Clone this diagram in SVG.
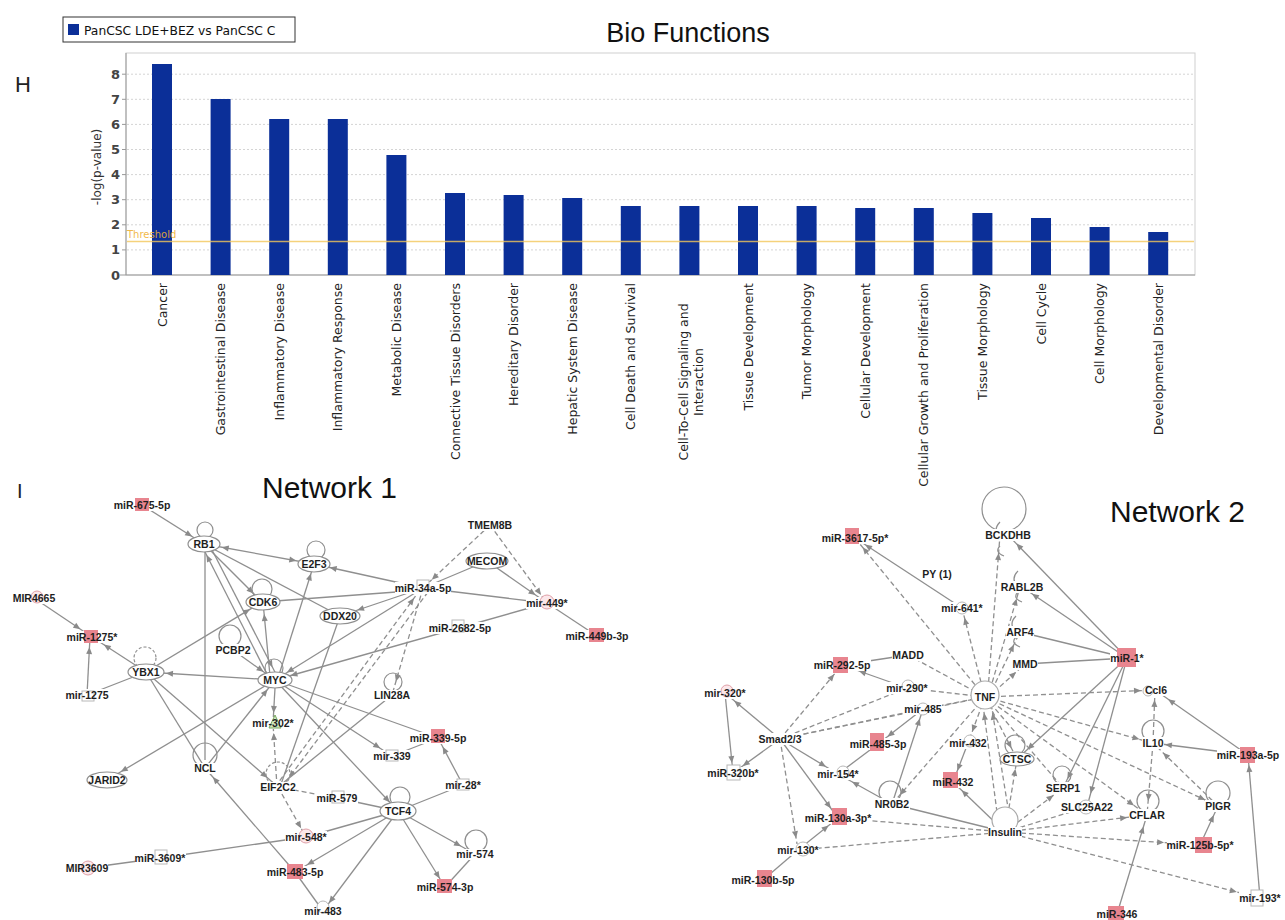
<svg xmlns="http://www.w3.org/2000/svg" width="1285" height="920" viewBox="0 0 1285 920">
<style>
.xl{font-family:"DejaVu Sans","Liberation Sans",sans-serif;font-size:12.5px;fill:#222;text-anchor:end}
.xm{font-family:"DejaVu Sans","Liberation Sans",sans-serif;font-size:12.5px;fill:#222;text-anchor:middle}
.yl{font-family:"DejaVu Sans","Liberation Sans",sans-serif;font-size:13px;font-weight:bold;fill:#444;text-anchor:end}
.bar{fill:#0b2f98}
.grid{stroke:#d4d4d4;stroke-dasharray:2 2;stroke-width:1}
.e{stroke:#8f8f8f;stroke-width:1.3;fill:none}
.d{stroke-dasharray:5 3}
.t{font-family:"Liberation Sans",Arial,sans-serif;font-weight:bold;font-size:10.5px;fill:#1e1e1e;text-anchor:middle}
.bg{fill:#fff}
.g{fill:#fff;stroke:#8f8f8f;stroke-width:1.2}
.lp{fill:none;stroke:#8f8f8f;stroke-width:1.2}
.lpd{fill:none;stroke:#8f8f8f;stroke-width:1.2;stroke-dasharray:3 2}
.r{fill:#e8858f}
.pk{fill:#fbe7ea;stroke:#e0a0a8}
.gb{fill:#fff;stroke:#b8b8b8}
.gn{fill:#cfe8c0;stroke:#7aa860}
.ttl{font-family:"Liberation Sans",Arial,sans-serif;fill:#111}
.ah{fill:#8a8a8a}
</style>
<defs>
<marker id="a10" markerWidth="8" markerHeight="8" refX="17" refY="0" orient="auto" markerUnits="userSpaceOnUse" overflow="visible"><path class="ah" d="M0,-3 L7,0 L0,3z"/></marker>
<marker id="a12" markerWidth="8" markerHeight="8" refX="19" refY="0" orient="auto" markerUnits="userSpaceOnUse" overflow="visible"><path class="ah" d="M0,-3 L7,0 L0,3z"/></marker>
<marker id="a14" markerWidth="8" markerHeight="8" refX="21" refY="0" orient="auto" markerUnits="userSpaceOnUse" overflow="visible"><path class="ah" d="M0,-3 L7,0 L0,3z"/></marker>
<marker id="a16" markerWidth="8" markerHeight="8" refX="23" refY="0" orient="auto" markerUnits="userSpaceOnUse" overflow="visible"><path class="ah" d="M0,-3 L7,0 L0,3z"/></marker>
<marker id="a18" markerWidth="8" markerHeight="8" refX="25" refY="0" orient="auto" markerUnits="userSpaceOnUse" overflow="visible"><path class="ah" d="M0,-3 L7,0 L0,3z"/></marker>
<marker id="a20" markerWidth="8" markerHeight="8" refX="27" refY="0" orient="auto" markerUnits="userSpaceOnUse" overflow="visible"><path class="ah" d="M0,-3 L7,0 L0,3z"/></marker>
<marker id="a24" markerWidth="8" markerHeight="8" refX="31" refY="0" orient="auto" markerUnits="userSpaceOnUse" overflow="visible"><path class="ah" d="M0,-3 L7,0 L0,3z"/></marker>
<marker id="a36" markerWidth="8" markerHeight="8" refX="43" refY="0" orient="auto" markerUnits="userSpaceOnUse" overflow="visible"><path class="ah" d="M0,-3 L7,0 L0,3z"/></marker>
<marker id="s18" markerWidth="8" markerHeight="8" refX="25" refY="0" orient="auto-start-reverse" markerUnits="userSpaceOnUse" overflow="visible"><path class="ah" d="M0,-3 L7,0 L0,3z"/></marker>
</defs>
<rect width="1285" height="920" fill="#fff"/>

<!-- Chart -->
<g id="chart">
<rect x="63" y="17" width="232" height="25" fill="#fff" stroke="#333"/>
<rect x="68" y="24" width="11" height="11" class="bar"/>
<text x="84" y="34.5" style="font-family:'DejaVu Sans',sans-serif;font-size:12.3px;fill:#111">PanCSC LDE+BEZ vs PanCSC C</text>
<text x="688" y="42" class="ttl" style="font-size:27px;text-anchor:middle">Bio Functions</text>
<text x="15" y="92" class="ttl" style="font-size:22px;fill:#222">H</text>
<rect x="126" y="53" width="1069" height="222" fill="#fff" stroke="#cfcfcf"/>
<g class="grid">
<line x1="127" y1="249.9" x2="1194" y2="249.9"/><line x1="127" y1="224.8" x2="1194" y2="224.8"/>
<line x1="127" y1="199.7" x2="1194" y2="199.7"/><line x1="127" y1="174.6" x2="1194" y2="174.6"/>
<line x1="127" y1="149.5" x2="1194" y2="149.5"/><line x1="127" y1="124.4" x2="1194" y2="124.4"/>
<line x1="127" y1="99.3" x2="1194" y2="99.3"/><line x1="127" y1="74.2" x2="1194" y2="74.2"/>
</g>
<g stroke="#999"><line x1="126" y1="53" x2="126" y2="275"/><line x1="120" y1="275" x2="1195" y2="275"/>
<line x1="122" y1="249.9" x2="126" y2="249.9"/><line x1="122" y1="224.8" x2="126" y2="224.8"/><line x1="122" y1="199.7" x2="126" y2="199.7"/><line x1="122" y1="174.6" x2="126" y2="174.6"/><line x1="122" y1="149.5" x2="126" y2="149.5"/><line x1="122" y1="124.4" x2="126" y2="124.4"/><line x1="122" y1="99.3" x2="126" y2="99.3"/><line x1="122" y1="74.2" x2="126" y2="74.2"/></g>
<text class="yl" x="120" y="279.5">0</text><text class="yl" x="120" y="254.4">1</text><text class="yl" x="120" y="229.3">2</text><text class="yl" x="120" y="204.2">3</text><text class="yl" x="120" y="179.1">4</text><text class="yl" x="120" y="154">5</text><text class="yl" x="120" y="128.9">6</text><text class="yl" x="120" y="103.8">7</text><text class="yl" x="120" y="78.7">8</text>
<text transform="translate(101,167) rotate(-90)" style="font-family:'DejaVu Sans',sans-serif;font-size:12px;fill:#333;text-anchor:middle">-log(p-value)</text>
<rect class="bar" x="152" y="64" width="20" height="211"/>
<rect class="bar" x="210.6" y="99" width="20" height="176"/>
<rect class="bar" x="269.2" y="119" width="20" height="156"/>
<rect class="bar" x="327.8" y="119" width="20" height="156"/>
<rect class="bar" x="386.4" y="155" width="20" height="120"/>
<rect class="bar" x="445" y="193" width="20" height="82"/>
<rect class="bar" x="503.6" y="195" width="20" height="80"/>
<rect class="bar" x="562.2" y="198" width="20" height="77"/>
<rect class="bar" x="620.8" y="206" width="20" height="69"/>
<rect class="bar" x="679.4" y="206" width="20" height="69"/>
<rect class="bar" x="738" y="206" width="20" height="69"/>
<rect class="bar" x="796.6" y="206" width="20" height="69"/>
<rect class="bar" x="855.2" y="208" width="20" height="67"/>
<rect class="bar" x="913.8" y="208" width="20" height="67"/>
<rect class="bar" x="972.4" y="213" width="20" height="62"/>
<rect class="bar" x="1031" y="218" width="20" height="57"/>
<rect class="bar" x="1089.6" y="227" width="20" height="48"/>
<rect class="bar" x="1148.2" y="232" width="20" height="43"/>
<line x1="127" y1="241.5" x2="1194" y2="241.5" stroke="#f2c75a" stroke-width="1.3" stroke-opacity="0.8"/>
<text x="127" y="238" style="font-family:'DejaVu Sans',sans-serif;font-size:10px;fill:#f0b030;fill-opacity:0.9">Threshold</text>
<text class="xl" transform="translate(166.5,283) rotate(-90)">Cancer</text>
<text class="xl" transform="translate(225,283) rotate(-90)">Gastrointestinal Disease</text>
<text class="xl" transform="translate(283.7,283) rotate(-90)">Inflammatory Disease</text>
<text class="xl" transform="translate(342.3,283) rotate(-90)">Inflammatory Response</text>
<text class="xl" transform="translate(400.9,283) rotate(-90)">Metabolic Disease</text>
<text class="xl" transform="translate(459.5,283) rotate(-90)">Connective Tissue Disorders</text>
<text class="xl" transform="translate(518.1,283) rotate(-90)">Hereditary Disorder</text>
<text class="xl" transform="translate(576.7,283) rotate(-90)">Hepatic System Disease</text>
<text class="xl" transform="translate(635.3,283) rotate(-90)">Cell Death and Survival</text>
<text class="xm" transform="translate(688,382) rotate(-90)">Cell-To-Cell Signaling and</text>
<text class="xm" transform="translate(703,382) rotate(-90)">Interaction</text>
<text class="xl" transform="translate(752.5,283) rotate(-90)">Tissue Development</text>
<text class="xl" transform="translate(811.1,283) rotate(-90)">Tumor Morphology</text>
<text class="xl" transform="translate(869.7,283) rotate(-90)">Cellular Development</text>
<text class="xl" transform="translate(928.3,283) rotate(-90)">Cellular Growth and Proliferation</text>
<text class="xl" transform="translate(986.9,283) rotate(-90)">Tissue Morphology</text>
<text class="xl" transform="translate(1045.5,283) rotate(-90)">Cell Cycle</text>
<text class="xl" transform="translate(1104.1,283) rotate(-90)">Cell Morphology</text>
<text class="xl" transform="translate(1162.7,283) rotate(-90)">Developmental Disorder</text>
</g>

<text x="17" y="498" class="ttl" style="font-size:20px;fill:#222">I</text>
<text x="262" y="498" class="ttl" style="font-size:30px">Network 1</text>
<text x="1110" y="522" class="ttl" style="font-size:30px">Network 2</text>

<!-- Connectors -->
<g id="connectors" class="e">
<!-- Network 1 -->
<line x1="142" y1="505" x2="204" y2="544" marker-end="url(#a14)"/>
<line x1="204" y1="544" x2="314" y2="564" marker-start="url(#s18)" marker-end="url(#a18)"/>
<line x1="204" y1="544" x2="262" y2="602" marker-end="url(#a12)"/>
<line x1="204" y1="544" x2="340" y2="616"/>
<line x1="205" y1="552" x2="205" y2="760"/>
<line x1="270" y1="680" x2="202" y2="546" marker-end="url(#a10)"/>
<line x1="210" y1="546" x2="278" y2="678" marker-end="url(#a12)"/>
<line x1="278" y1="678" x2="314" y2="564" marker-end="url(#a10)"/>
<line x1="270" y1="676" x2="263" y2="602" marker-end="url(#a12)"/>
<line x1="275" y1="680" x2="146" y2="672" marker-end="url(#a20)"/>
<line x1="146" y1="672" x2="262" y2="602" marker-end="url(#a14)"/>
<line x1="233" y1="650" x2="275" y2="680" marker-end="url(#a14)"/>
<line x1="423" y1="588" x2="314" y2="564" marker-end="url(#a16)"/>
<line x1="423" y1="590" x2="262" y2="602"/>
<line x1="423" y1="588" x2="340" y2="616" marker-end="url(#a18)"/>
<line x1="423" y1="588" x2="275" y2="680" marker-end="url(#a14)"/>
<line x1="423" y1="588" x2="547" y2="603"/>
<line class="e d" x1="490" y1="525" x2="423" y2="588" marker-end="url(#a12)"/>
<line class="e d" x1="490" y1="525" x2="547" y2="603" marker-end="url(#a10)"/>
<line x1="487" y1="561" x2="423" y2="588"/>
<line x1="487" y1="561" x2="547" y2="603" marker-end="url(#a14)"/>
<line x1="547" y1="603" x2="597" y2="636"/>
<line x1="547" y1="603" x2="275" y2="680" marker-end="url(#a16)"/>
<line class="e d" x1="423" y1="588" x2="392" y2="695" marker-end="url(#a14)"/>
<line class="e d" x1="275" y1="787" x2="420" y2="590" marker-end="url(#a10)"/>
<line class="e d" x1="428" y1="592" x2="282" y2="787" marker-end="url(#a12)"/>
<line x1="34" y1="598" x2="92" y2="637" marker-end="url(#a14)"/>
<line x1="146" y1="672" x2="92" y2="637" marker-end="url(#a14)"/>
<line x1="87" y1="695" x2="90" y2="637" marker-end="url(#a10)"/>
<line x1="146" y1="672" x2="87" y2="695"/>
<line x1="275" y1="680" x2="107" y2="780" marker-end="url(#a16)"/>
<line x1="146" y1="672" x2="205" y2="768"/>
<line x1="146" y1="672" x2="278" y2="787" marker-end="url(#a14)"/>
<line x1="205" y1="768" x2="275" y2="680" marker-end="url(#a12)"/>
<line x1="295" y1="872" x2="205" y2="768" marker-end="url(#a12)"/>
<line x1="295" y1="872" x2="323" y2="911"/>
<line x1="275" y1="688" x2="273" y2="723" marker-end="url(#a10)"/>
<line class="e d" x1="277" y1="787" x2="273" y2="723" marker-end="url(#a10)"/>
<line x1="275" y1="680" x2="392" y2="756" marker-end="url(#a14)"/>
<line x1="275" y1="680" x2="438" y2="738"/>
<line x1="275" y1="680" x2="398" y2="811" marker-end="url(#a12)"/>
<line x1="340" y1="616" x2="280" y2="787"/>
<line x1="463" y1="785" x2="438" y2="738" marker-end="url(#a10)"/>
<line x1="392" y1="756" x2="438" y2="738"/>
<line x1="398" y1="811" x2="463" y2="785"/>
<line x1="398" y1="811" x2="475" y2="854" marker-end="url(#a16)"/>
<line x1="398" y1="811" x2="445" y2="887" marker-end="url(#a10)"/>
<line x1="475" y1="854" x2="445" y2="887"/>
<line x1="398" y1="811" x2="323" y2="911" marker-end="url(#a10)"/>
<line x1="398" y1="811" x2="337" y2="798"/>
<line x1="398" y1="811" x2="306" y2="837"/>
<line x1="398" y1="811" x2="295" y2="872" marker-end="url(#a14)"/>
<line class="e d" x1="278" y1="787" x2="306" y2="837" marker-end="url(#a10)"/>
<line class="e d" x1="278" y1="787" x2="337" y2="798"/>
<line x1="160" y1="858" x2="306" y2="837"/>
<line x1="87" y1="868" x2="160" y2="858"/>
<line x1="392" y1="695" x2="278" y2="787"/>
<!-- Network 2 -->
<line x1="962" y1="608" x2="855" y2="538" marker-end="url(#a12)"/>
<line class="e d" x1="985" y1="697" x2="855" y2="538" marker-end="url(#a12)"/>
<line class="e d" x1="983" y1="690" x2="962" y2="608" marker-end="url(#a10)"/>
<line class="e d" x1="988" y1="690" x2="1000" y2="535" marker-end="url(#a18)"/>
<line class="e d" x1="990" y1="690" x2="1020" y2="587" marker-end="url(#a12)"/>
<line class="e d" x1="992" y1="690" x2="1020" y2="632" marker-end="url(#a14)"/>
<line class="e d" x1="994" y1="692" x2="1025" y2="664" marker-end="url(#a12)"/>
<line x1="1127" y1="658" x2="1008" y2="535" marker-end="url(#a12)"/>
<line x1="1127" y1="658" x2="1022" y2="587" marker-end="url(#a12)"/>
<line x1="1127" y1="658" x2="1020" y2="632"/>
<line x1="1127" y1="658" x2="1025" y2="664"/>
<line class="e d" x1="985" y1="697" x2="1155" y2="690" marker-end="url(#a14)"/>
<line x1="1127" y1="658" x2="1017" y2="759" marker-end="url(#a14)"/>
<line x1="1127" y1="658" x2="1063" y2="788" marker-end="url(#a10)"/>
<line x1="1127" y1="658" x2="1087" y2="807" marker-end="url(#a14)"/>
<line x1="908" y1="655" x2="842" y2="665"/>
<line class="e d" x1="908" y1="655" x2="985" y2="697"/>
<line x1="907" y1="688" x2="842" y2="665" marker-end="url(#a18)"/>
<line class="e d" x1="907" y1="688" x2="985" y2="697"/>
<line class="e d" x1="780" y1="739" x2="842" y2="665" marker-end="url(#a12)"/>
<line x1="780" y1="739" x2="725" y2="693" marker-end="url(#a12)"/>
<line x1="780" y1="739" x2="733" y2="773" marker-end="url(#a12)"/>
<line x1="725" y1="693" x2="733" y2="773" marker-end="url(#a10)"/>
<line x1="780" y1="739" x2="838" y2="774" marker-end="url(#a14)"/>
<line x1="780" y1="739" x2="838" y2="818" marker-end="url(#a12)"/>
<line class="e d" x1="780" y1="739" x2="798" y2="850" marker-end="url(#a12)"/>
<line class="e d" x1="780" y1="739" x2="985" y2="697"/>
<line class="e d" x1="780" y1="739" x2="923" y2="709"/>
<line class="e d" x1="780" y1="739" x2="907" y2="688"/>
<line x1="923" y1="709" x2="878" y2="744" marker-end="url(#a12)"/>
<line x1="838" y1="774" x2="878" y2="744"/>
<line x1="892" y1="804" x2="923" y2="709" marker-end="url(#a10)"/>
<line x1="892" y1="804" x2="838" y2="774" marker-end="url(#a16)"/>
<line x1="892" y1="804" x2="1005" y2="832"/>
<line class="e d" x1="985" y1="697" x2="892" y2="804" marker-end="url(#a12)"/>
<line class="e d" x1="985" y1="697" x2="968" y2="743" marker-end="url(#a12)"/>
<line x1="968" y1="743" x2="953" y2="782" marker-end="url(#a12)"/>
<line x1="1005" y1="832" x2="953" y2="782" marker-end="url(#a12)"/>
<line x1="798" y1="850" x2="838" y2="818" marker-end="url(#a12)"/>
<line x1="798" y1="850" x2="763" y2="880"/>
<line class="e d" x1="1005" y1="832" x2="838" y2="818"/>
<line class="e d" x1="1005" y1="832" x2="798" y2="850"/>
<line class="e d" x1="998" y1="820" x2="982" y2="697" marker-end="url(#a16)"/>
<line class="e d" x1="1010" y1="820" x2="990" y2="697" marker-end="url(#a16)"/>
<line class="e d" x1="1005" y1="832" x2="1017" y2="759" marker-end="url(#a10)"/>
<line class="e d" x1="985" y1="697" x2="1017" y2="759" marker-end="url(#a12)"/>
<line class="e d" x1="985" y1="697" x2="1153" y2="743" marker-end="url(#a14)"/>
<line class="e d" x1="985" y1="697" x2="1218" y2="806" marker-end="url(#a14)"/>
<line class="e d" x1="985" y1="697" x2="1147" y2="815" marker-end="url(#a16)"/>
<line class="e d" x1="985" y1="697" x2="1063" y2="788"/>
<line class="e d" x1="1005" y1="832" x2="1063" y2="788" marker-end="url(#a12)"/>
<line class="e d" x1="1005" y1="832" x2="1087" y2="807"/>
<line class="e d" x1="1005" y1="832" x2="1147" y2="815" marker-end="url(#a20)"/>
<line class="e d" x1="1005" y1="832" x2="1200" y2="845" marker-end="url(#a36)"/>
<line class="e d" x1="1005" y1="832" x2="1260" y2="898" marker-end="url(#a24)"/>
<line class="e d" x1="1153" y1="743" x2="1155" y2="690" marker-end="url(#a10)"/>
<line class="e d" x1="1153" y1="743" x2="1147" y2="815" marker-end="url(#a14)"/>
<line x1="1248" y1="755" x2="1153" y2="743" marker-end="url(#a12)"/>
<line x1="1248" y1="755" x2="1155" y2="690" marker-end="url(#a16)"/>
<line x1="1260" y1="898" x2="1248" y2="755" marker-end="url(#a10)"/>
<line class="e d" x1="1218" y1="806" x2="1153" y2="743" marker-end="url(#a14)"/>
<line x1="1200" y1="845" x2="1218" y2="806" marker-end="url(#a10)"/>
<line x1="1117" y1="914" x2="1147" y2="815" marker-end="url(#a12)"/>
<line class="e d" x1="923" y1="709" x2="985" y2="697"/>
</g>

<!-- Network 1 nodes -->
<g id="n1-mir675"><rect class="bg" x="114" y="499" width="56" height="12"/><rect class="r" x="135" y="498" width="14" height="13"/><text class="t" x="142" y="509">miR-675-5p</text></g>
<g id="n1-rb1"><circle class="lp" cx="205" cy="530" r="8"/><ellipse class="g" cx="204" cy="544" rx="16" ry="8"/><text class="t" x="204" y="548">RB1</text></g>
<g id="n1-e2f3"><circle class="lp" cx="316" cy="550" r="9"/><ellipse class="g" cx="314" cy="564" rx="16" ry="8"/><text class="t" x="314" y="568">E2F3</text></g>
<g id="n1-cdk6"><circle class="lp" cx="262" cy="589" r="10"/><ellipse class="g" cx="263" cy="602" rx="17" ry="8"/><text class="t" x="263" y="606">CDK6</text></g>
<g id="n1-ddx20"><ellipse class="g" cx="340" cy="616" rx="20" ry="8"/><text class="t" x="340" y="620">DDX20</text></g>
<g id="n1-pcbp2"><circle class="lp" cx="230" cy="636" r="11"/><rect class="bg" x="215" y="644" width="36" height="12"/><text class="t" x="233" y="654">PCBP2</text></g>
<g id="n1-ybx1"><circle class="lpd" cx="145" cy="658" r="11"/><ellipse class="g" cx="146" cy="672" rx="18" ry="8"/><text class="t" x="146" y="676">YBX1</text></g>
<g id="n1-myc"><circle class="lp" cx="274" cy="668" r="9"/><ellipse class="g" cx="275" cy="680" rx="17" ry="8"/><text class="t" x="275" y="684">MYC</text></g>
<g id="n1-mir4665"><rect class="bg" x="13" y="592" width="42" height="12"/><circle class="pk" cx="37" cy="597" r="6"/><text class="t" x="34" y="602">MIR4665</text></g>
<g id="n1-mir1275s"><rect class="bg" x="66" y="631" width="52" height="12"/><rect class="r" x="84" y="630" width="14" height="13"/><text class="t" x="92" y="641">miR-1275*</text></g>
<g id="n1-mir1275"><rect class="bg" x="65" y="689" width="44" height="12"/><rect class="gb" x="82" y="691" width="12" height="10"/><text class="t" x="87" y="699">mir-1275</text></g>
<g id="n1-mir34a"><rect class="bg" x="395" y="582" width="56" height="12"/><rect class="gb" x="417" y="580" width="12" height="11"/><text class="t" x="423" y="592">miR-34a-5p</text></g>
<g id="n1-tmem8b"><rect class="bg" x="469" y="519" width="42" height="12"/><text class="t" x="490" y="529">TMEM8B</text></g>
<g id="n1-mecom"><ellipse class="g" cx="487" cy="561" rx="21" ry="8"/><text class="t" x="487" y="565">MECOM</text></g>
<g id="n1-mir449s"><rect class="bg" x="526" y="597" width="42" height="12"/><circle class="pk" cx="547" cy="602" r="7"/><text class="t" x="547" y="607">mir-449*</text></g>
<g id="n1-mir449b"><rect class="bg" x="566" y="630" width="63" height="12"/><rect class="r" x="589" y="628" width="15" height="14"/><text class="t" x="597" y="640">miR-449b-3p</text></g>
<g id="n1-mir2682"><rect class="bg" x="429" y="622" width="62" height="12"/><rect class="gb" x="452" y="620" width="12" height="12"/><text class="t" x="460" y="632">miR-2682-5p</text></g>
<g id="n1-lin28a"><circle class="lp" cx="393" cy="682" r="9"/><rect class="bg" x="374" y="690" width="36" height="11"/><text class="t" x="392" y="699">LIN28A</text></g>
<g id="n1-jarid2"><ellipse class="g" cx="107" cy="780" rx="20" ry="8"/><text class="t" x="107" y="784">JARID2</text></g>
<g id="n1-ncl"><circle class="lp" cx="205" cy="755" r="12"/><rect class="bg" x="194" y="763" width="22" height="11"/><text class="t" x="205" y="772">NCL</text></g>
<g id="n1-mir302"><rect class="bg" x="252" y="717" width="42" height="12"/><path class="gn" d="M275,715 L281,728 L269,728z"/><text class="t" x="273" y="727">mir-302*</text></g>
<g id="n1-eif2c2"><circle class="lpd" cx="278" cy="774" r="12"/><rect class="bg" x="260" y="782" width="36" height="11"/><text class="t" x="278" y="791">EIF2C2</text></g>
<g id="n1-mir579"><rect class="bg" x="317" y="792" width="41" height="12"/><rect class="gb" x="332" y="791" width="12" height="12"/><text class="t" x="337" y="802">miR-579</text></g>
<g id="n1-mir548"><rect class="bg" x="285" y="831" width="42" height="12"/><circle class="pk" cx="306" cy="836" r="7"/><text class="t" x="306" y="841">mir-548*</text></g>
<g id="n1-mir4835p"><rect class="bg" x="267" y="866" width="57" height="12"/><rect class="r" x="287" y="864" width="16" height="15"/><text class="t" x="295" y="876">miR-483-5p</text></g>
<g id="n1-mir3609cap"><rect class="bg" x="66" y="862" width="42" height="12"/><circle class="pk" cx="88" cy="868" r="7"/><text class="t" x="87" y="872">MIR3609</text></g>
<g id="n1-mir3609s"><rect class="bg" x="135" y="852" width="51" height="12"/><rect class="gb" x="155" y="850" width="12" height="14"/><text class="t" x="160" y="862">miR-3609*</text></g>
<g id="n1-mir339"><rect class="bg" x="373" y="750" width="38" height="12"/><rect class="gb" x="386" y="750" width="12" height="11"/><text class="t" x="392" y="760">mir-339</text></g>
<g id="n1-mir3395p"><rect class="bg" x="410" y="732" width="57" height="12"/><rect class="r" x="431" y="729" width="14" height="14"/><text class="t" x="438" y="742">miR-339-5p</text></g>
<g id="n1-mir28"><rect class="bg" x="445" y="779" width="36" height="12"/><rect class="gb" x="457" y="779" width="12" height="11"/><text class="t" x="463" y="789">mir-28*</text></g>
<g id="n1-tcf4"><circle class="lp" cx="400" cy="797" r="10"/><ellipse class="g" cx="398" cy="811" rx="18" ry="9"/><text class="t" x="398" y="815">TCF4</text></g>
<g id="n1-mir574"><circle class="lp" cx="476" cy="841" r="11"/><rect class="bg" x="456" y="849" width="38" height="11"/><text class="t" x="475" y="858">mir-574</text></g>
<g id="n1-mir5743p"><rect class="bg" x="417" y="881" width="57" height="12"/><rect class="r" x="437" y="879" width="15" height="14"/><text class="t" x="445" y="891">miR-574-3p</text></g>
<g id="n1-mir483"><rect class="bg" x="304" y="905" width="38" height="12"/><circle class="gb" cx="323" cy="907" r="6"/><text class="t" x="323" y="915">mir-483</text></g>

<!-- Network 2 nodes -->
<g id="n2-bckdhb"><circle class="lp" cx="1004" cy="509" r="22"/><path class="lp" d="M1000,522 q-8,8 0,18 M1000,546 q-6,6 4,10"/><rect class="bg" x="985" y="529" width="46" height="12"/><text class="t" x="1008" y="539">BCKDHB</text></g>
<g id="n2-mir3617"><rect class="bg" x="822" y="532" width="67" height="12"/><rect class="r" x="845" y="528" width="14" height="16"/><text class="t" x="855" y="542">miR-3617-5p*</text></g>
<g id="n2-py1"><text class="t" x="937" y="578">PY (1)</text></g>
<g id="n2-mir641"><rect class="bg" x="941" y="602" width="42" height="12"/><circle class="gb" cx="962" cy="608" r="6"/><text class="t" x="962" y="612">mir-641*</text></g>
<g id="n2-rabl2b"><path class="lp" d="M1018,571 q-8,8 0,16 M1018,592 q-6,6 4,10"/><rect class="bg" x="1001" y="581" width="43" height="12"/><text class="t" x="1022" y="591">RABL2B</text></g>
<g id="n2-arf4"><path class="lp" d="M1016,616 q-8,8 0,16 M1016,637 q-6,6 4,10"/><rect class="bg" x="1006" y="626" width="28" height="12"/><text class="t" x="1020" y="636">ARF4</text></g>
<g id="n2-mmd"><rect class="bg" x="1012" y="658" width="26" height="12"/><text class="t" x="1025" y="668">MMD</text></g>
<g id="n2-mir1"><rect class="bg" x="1110" y="652" width="34" height="12"/><rect class="r" x="1117" y="648" width="19" height="19"/><text class="t" x="1127" y="662">miR-1*</text></g>
<g id="n2-ccl6"><rect class="bg" x="1144" y="684" width="23" height="12"/><circle class="gb" cx="1148" cy="691" r="5"/><text class="t" x="1156" y="694">Ccl6</text></g>
<g id="n2-madd"><rect class="bg" x="892" y="649" width="32" height="12"/><text class="t" x="908" y="659">MADD</text></g>
<g id="n2-mir292"><rect class="bg" x="814" y="659" width="57" height="12"/><rect class="r" x="833" y="657" width="15" height="16"/><text class="t" x="842" y="669">miR-292-5p</text></g>
<g id="n2-mir290"><rect class="bg" x="886" y="682" width="42" height="12"/><circle class="gb" cx="908" cy="686" r="6"/><text class="t" x="907" y="692">mir-290*</text></g>
<g id="n2-mir320s"><rect class="bg" x="704" y="687" width="42" height="12"/><circle class="pk" cx="727" cy="691" r="6"/><text class="t" x="725" y="697">mir-320*</text></g>
<g id="n2-tnf"><circle class="g" cx="985" cy="695" r="14" style="stroke:#aaa"/><text class="t" x="985" y="701">TNF</text></g>
<g id="n2-mir485"><rect class="bg" x="904" y="703" width="38" height="12"/><circle class="gb" cx="923" cy="709" r="6"/><text class="t" x="923" y="713">mir-485</text></g>
<g id="n2-smad"><rect class="bg" x="758" y="733" width="44" height="12"/><text class="t" x="780" y="743">Smad2/3</text></g>
<g id="n2-mir4853p"><rect class="bg" x="850" y="738" width="57" height="12"/><rect class="r" x="870" y="733" width="14" height="18"/><text class="t" x="878" y="748">miR-485-3p</text></g>
<g id="n2-mir432l"><rect class="bg" x="949" y="737" width="38" height="12"/><circle class="gb" cx="970" cy="741" r="6"/><text class="t" x="968" y="747">mir-432</text></g>
<g id="n2-mir320b"><rect class="bg" x="707" y="767" width="52" height="12"/><rect class="gb" x="727" y="765" width="13" height="15"/><text class="t" x="733" y="777">miR-320b*</text></g>
<g id="n2-mir154"><rect class="bg" x="817" y="768" width="42" height="12"/><circle class="gb" cx="843" cy="772" r="6"/><text class="t" x="838" y="778">mir-154*</text></g>
<g id="n2-mir432"><rect class="bg" x="932" y="776" width="42" height="12"/><rect class="r" x="943" y="772" width="15" height="16"/><text class="t" x="953" y="786">miR-432</text></g>
<g id="n2-nr0b2"><circle class="lp" cx="890" cy="792" r="11"/><rect class="bg" x="874" y="798" width="36" height="12"/><text class="t" x="892" y="808">NR0B2</text></g>
<g id="n2-ctsc"><circle class="lp" cx="1015" cy="745" r="10"/><ellipse class="g" cx="1017" cy="759" rx="17" ry="7"/><text class="t" x="1017" y="763">CTSC</text></g>
<g id="n2-il10"><circle class="lp" cx="1153" cy="731" r="11"/><rect class="bg" x="1142" y="737" width="22" height="12"/><text class="t" x="1153" y="747">IL10</text></g>
<g id="n2-mir193a"><rect class="bg" x="1217" y="749" width="63" height="12"/><rect class="r" x="1240" y="747" width="15" height="16"/><text class="t" x="1248" y="759">miR-193a-5p</text></g>
<g id="n2-serp1"><circle class="lp" cx="1062" cy="775" r="9"/><rect class="bg" x="1046" y="782" width="34" height="12"/><text class="t" x="1063" y="792">SERP1</text></g>
<g id="n2-slc25a22"><rect class="bg" x="1061" y="801" width="52" height="12"/><circle class="gb" cx="1086" cy="807" r="7"/><text class="t" x="1087" y="811">SLC25A22</text></g>
<g id="n2-cflar"><circle class="lp" cx="1148" cy="801" r="11"/><rect class="bg" x="1129" y="809" width="36" height="12"/><text class="t" x="1147" y="819">CFLAR</text></g>
<g id="n2-pigr"><circle class="lp" cx="1218" cy="793" r="12"/><rect class="bg" x="1205" y="800" width="26" height="12"/><text class="t" x="1218" y="810">PIGR</text></g>
<g id="n2-mir130a"><rect class="bg" x="805" y="812" width="67" height="12"/><rect class="r" x="832" y="808" width="15" height="17"/><text class="t" x="838" y="822">miR-130a-3p*</text></g>
<g id="n2-insulin"><circle class="g" cx="1005" cy="820" r="13" style="stroke:#aaa"/><rect class="bg" x="988" y="827" width="34" height="11"/><text class="t" x="1005" y="836">Insulin</text></g>
<g id="n2-mir125b"><rect class="bg" x="1167" y="839" width="67" height="12"/><rect class="r" x="1195" y="837" width="17" height="16"/><text class="t" x="1200" y="849">miR-125b-5p*</text></g>
<g id="n2-mir130s"><rect class="bg" x="777" y="844" width="42" height="12"/><circle class="gb" cx="803" cy="849" r="7"/><text class="t" x="798" y="854">mir-130*</text></g>
<g id="n2-mir130b"><rect class="bg" x="732" y="874" width="62" height="12"/><rect class="r" x="757" y="870" width="15" height="17"/><text class="t" x="763" y="884">miR-130b-5p</text></g>
<g id="n2-mir193s"><rect class="bg" x="1239" y="892" width="42" height="12"/><rect class="gb" x="1251" y="890" width="12" height="16"/><text class="t" x="1260" y="902">mir-193*</text></g>
<g id="n2-mir346"><rect class="bg" x="1097" y="908" width="41" height="12"/><rect class="r" x="1108" y="906" width="16" height="14"/><text class="t" x="1117" y="918">miR-346</text></g>
</svg>
